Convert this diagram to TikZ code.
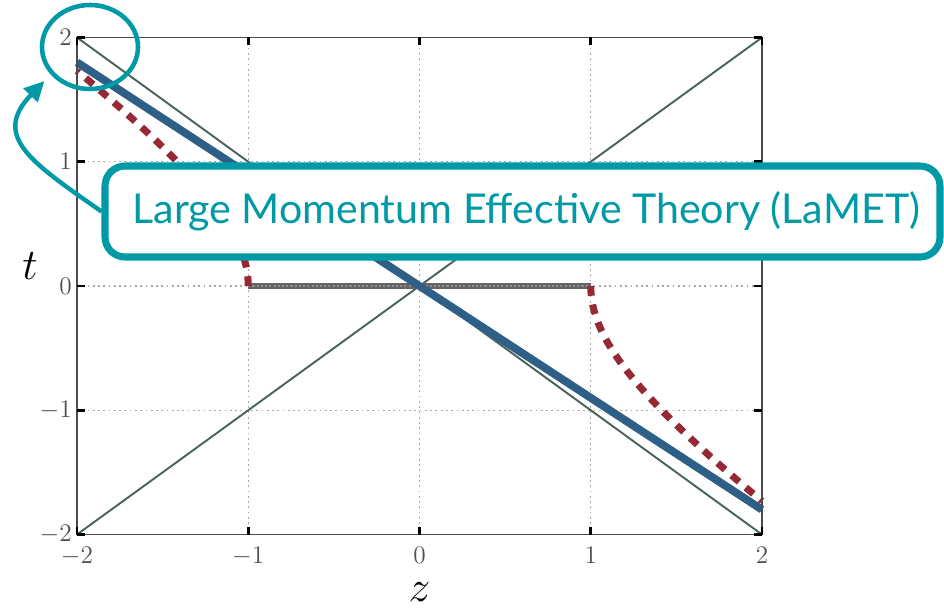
\documentclass[tikz,border=0pt]{standalone}
\usepackage{fontspec}
\newfontfamily\calloutfont{Lato}
\usepackage{tikz}
\usetikzlibrary{arrows.meta, shapes.geometric}
\definecolor{lamteal}{RGB}{0, 153, 166}
\definecolor{coneline}{RGB}{72, 100, 92}
\definecolor{pathblue}{RGB}{46, 96, 135}
\definecolor{pathred}{RGB}{150, 42, 52}
\definecolor{seggray}{RGB}{100, 100, 100}
\definecolor{ticktext}{RGB}{80, 80, 80}

\begin{document}
\begin{tikzpicture}[
    gridline/.style={black!35, line width=0.6pt, dash pattern=on 1pt off 2pt},
    frame/.style={draw=black!70, line width=1.1pt},
    tickmark/.style={black, line width=1.6pt},
    ticklab/.style={text=ticktext, font=\fontsize{14}{16}\selectfont, inner sep=0pt},
    axislab/.style={font=\fontsize{24}{28}\selectfont, inner sep=0pt},
    cone/.style={coneline, line width=1.1pt},
    callout/.style={rectangle, rounded corners=0.4cm, draw=lamteal, line width=4pt, fill=white,
        minimum width=16.7cm, minimum height=1.82cm, text=lamteal,
        font=\calloutfont\fontsize{23.4}{28}\selectfont},
    ring/.style={ellipse, draw=lamteal, line width=2.6pt, minimum width=1.92cm, minimum height=1.68cm},
    callarrow/.style={-{Triangle[length=0.4cm, width=0.38cm]}, lamteal, line width=2.5pt}
]
    \useasboundingbox (0,0) rectangle (18.88,-12.16);

    \begin{scope}[shift={(8.39,-5.72)}, x=3.425cm, y=2.485cm]
        % Grid
        \foreach \v in {-1,0,1} {
            \draw[gridline] (\v,-2) -- (\v,2);
            \draw[gridline] (-2,\v) -- (2,\v);
        }

        % Light cone
        \draw[cone] (-2,-2) -- (2,2);
        \draw[cone] (-2,2) -- (2,-2);

        % Segment on t=0
        \draw[seggray, line width=3.4pt] (-1,0) -- (1,0);
        \draw[black!45, line width=0.8pt, dash pattern=on 1.2pt off 1.2pt] (-1,0) -- (1,0);

        % Hyperbola
        \draw[pathred, line width=4pt, dash pattern=on 5.6pt off 5pt]
            plot[domain=0:1.317, samples=40] ({cosh(\x)}, {-sinh(\x)});
        \draw[pathred, line width=4pt, dash pattern=on 5.6pt off 5pt]
            plot[domain=0:1.317, samples=40] ({-cosh(\x)}, {sinh(\x)});

        % Boosted line
        \draw[pathblue, line width=4.5pt] (-2,1.8) -- (2,-1.8);

        % Frame and ticks
        \draw[frame] (-2,-2) rectangle (2,2);
        \foreach \v in {-2,...,2} {
            \draw[tickmark] (\v,-2) -- ++(0,0.16cm);
            \draw[tickmark] (\v,2) -- ++(0,-0.16cm);
            \draw[tickmark] (-2,\v) -- ++(0.16cm,0);
            \draw[tickmark] (2,\v) -- ++(-0.16cm,0);
        }

        % Tick labels
        \foreach \v [count=\k] in {-2,...,2} {
            \node[ticklab, below=0.25cm] (zlab\k) at (\v,-2) {$\v$};
            \node[ticklab, left=0.1cm] (tlab\k) at (-2,\v) {$\v$};
        }
    \end{scope}

    % Axis labels
    \node[axislab] (tname) at (0.6,-5.32) {$t$};
    \node[axislab] (zname) at (8.39,-11.85) {$z$};

    % Callout
    \node[callout] (lamet) at (10.45,-4.23) {\hspace{0.15cm}Large Momentum Effective Theory (LaMET)};
    \node[ring] (corner) at (1.8,-0.94) {};
    \draw[callarrow, shorten >=0.18cm] (lamet.west) to[out=145, in=226, looseness=1.5] (corner.215);
\end{tikzpicture}
\end{document}
